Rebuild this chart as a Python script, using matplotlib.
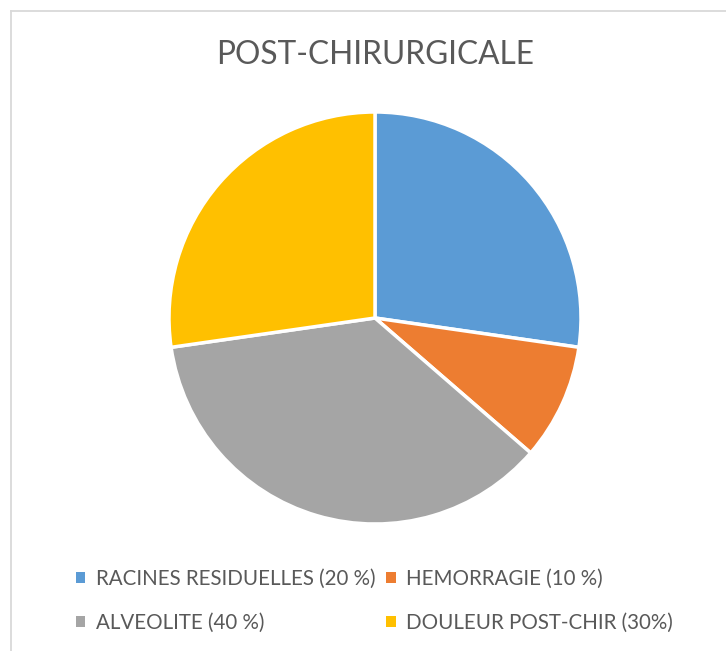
import matplotlib
matplotlib.use("Agg")
import matplotlib.pyplot as plt
from matplotlib.lines import Line2D

labels = ["RACINES RESIDUELLES (20 %)", "HEMORRAGIE (10 %)",
          "ALVEOLITE (40 %)", "DOULEUR POST-CHIR (30%)"]
values = [3, 1, 4, 3]
colors = ["#5B9BD5", "#ED7D31", "#A5A5A5", "#FFC000"]
title = "POST-CHIRURGICALE"

plt.rcParams['font.family'] = ['Lato', 'DejaVu Sans']

fig = plt.figure(figsize=(7.26, 6.51), dpi=100)
fig.patch.set_facecolor("white")

# chart border (top and left only visible)
fig.add_artist(Line2D([11/726, 11/726], [0, 1 - 11/651], transform=fig.transFigure,
                      color="#D9D9D9", lw=1.3))
fig.add_artist(Line2D([11/726, 1], [1 - 11/651, 1 - 11/651], transform=fig.transFigure,
                      color="#D9D9D9", lw=1.3))

ax = fig.add_axes([(375 - 206) / 726, (651 - 318 - 206) / 651, 412 / 726, 412 / 651])
wedges, _ = ax.pie(values, colors=colors, startangle=90, counterclock=False,
                   radius=1, wedgeprops=dict(edgecolor="white", linewidth=2.5))
ax.set_xlim(-1.0, 1.0)
ax.set_ylim(-1.0, 1.0)
ax.axis("off")

fig.text(375 / 726, 1 - 55 / 651, title, ha="center", va="center",
         fontsize=22.8, color="#595959")

order = [0, 2, 1, 3]
leg = fig.legend([wedges[i] for i in order], [labels[i] for i in order],
                 ncol=2, loc="center left", bbox_to_anchor=(76 / 726, 1 - 601 / 651),
                 frameon=False, fontsize=14.8, labelcolor="#595959",
                 handlelength=0.45, handleheight=0.45, handletextpad=0.5,
                 columnspacing=0.55, labelspacing=1.15, borderpad=0, borderaxespad=0)
for h in leg.legend_handles:
    h.set_edgecolor("none")

fig.savefig("out.png", dpi=100)
